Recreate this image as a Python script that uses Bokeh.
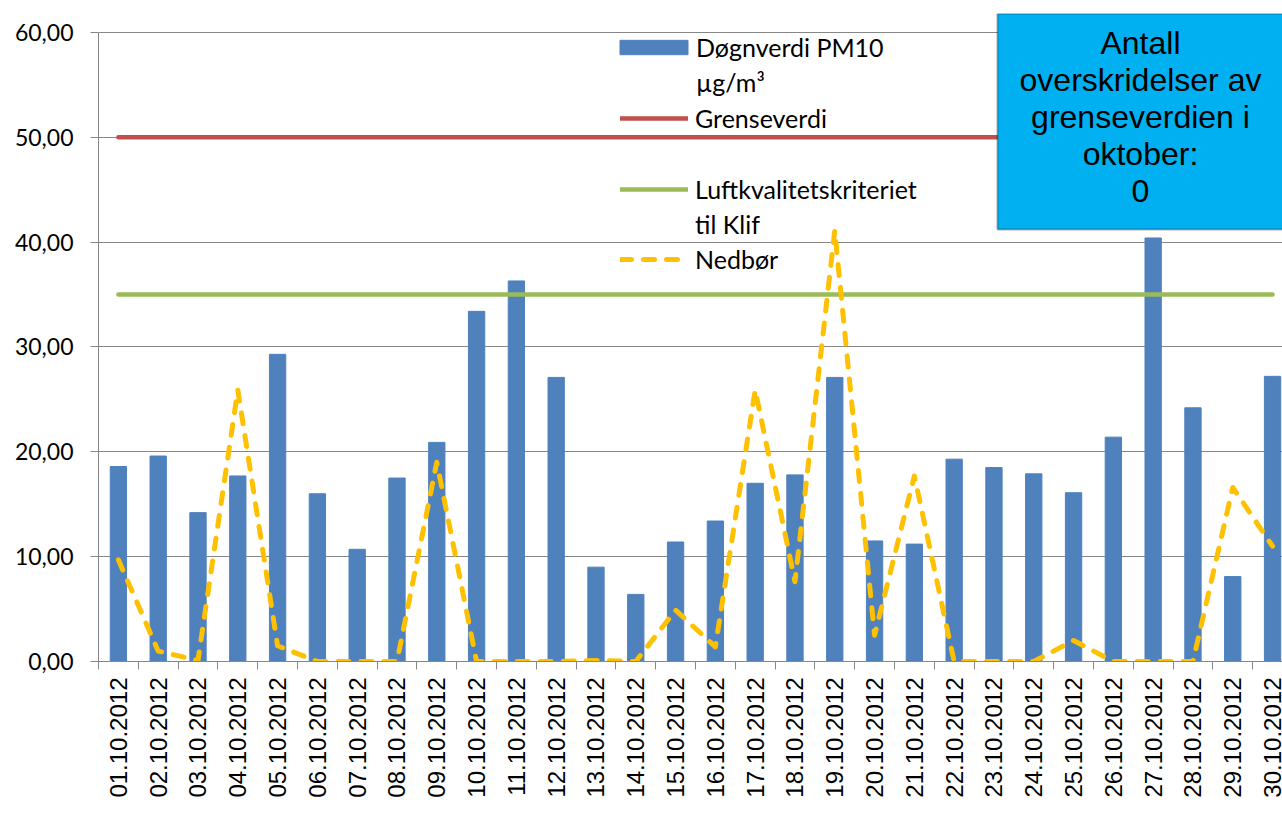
from math import pi
from bokeh.plotting import figure
from bokeh.models import (Range1d, FixedTicker, Legend, LegendItem,
                          BoxAnnotation, Label)
from bokeh.embed import file_html
from bokeh.resources import INLINE

# ---------------- data ----------------
dates = ["01.10.2012", "02.10.2012", "03.10.2012", "04.10.2012", "05.10.2012",
         "06.10.2012", "07.10.2012", "08.10.2012", "09.10.2012", "10.10.2012",
         "11.10.2012", "12.10.2012", "13.10.2012", "14.10.2012", "15.10.2012",
         "16.10.2012", "17.10.2012", "18.10.2012", "19.10.2012", "20.10.2012",
         "21.10.2012", "22.10.2012", "23.10.2012", "24.10.2012", "25.10.2012",
         "26.10.2012", "27.10.2012", "28.10.2012", "29.10.2012", "30.10.2012"]
pm10 = [18.6, 19.6, 14.2, 17.7, 29.3, 16.0, 10.7, 17.5, 20.9, 33.4,
        36.3, 27.1, 9.0, 6.4, 11.4, 13.4, 17.0, 17.8, 27.1, 11.5,
        11.2, 19.3, 18.5, 17.9, 16.1, 21.4, 40.4, 24.2, 8.1, 27.2]
nedbor = [9.7, 1.0, 0.1, 25.9, 1.5, 0.0, 0.0, 0.0, 19.0, 0.0,
          0.0, 0.0, 0.1, 0.0, 4.9, 1.4, 25.9, 7.6, 41.1, 2.5,
          17.7, 0.0, 0.0, 0.0, 2.0, 0.0, 0.0, 0.0, 16.6, 11.0]
grenseverdi = [50.0] * len(dates)
kriterium = [35.0] * len(dates)
y_ticks = [0, 10, 20, 30, 40, 50, 60]
y_tick_labels = ["0,00", "10,00", "20,00", "30,00", "40,00", "50,00", "60,00"]
# legend texts (each line of a wrapped legend label is one row)
leg_pm10 = ["Døgnverdi PM10", "µg/m³"]
leg_grense = ["Grenseverdi"]
leg_krit = ["Luftkvalitetskriteriet", "til Klif"]
leg_nedbor = ["Nedbør"]
box_text = "Antall\noverskridelser av\ngrenseverdien i\noktober:\n0"

xs = [i + 1 for i in range(len(dates))]

# ---------------- figure ----------------
p = figure(width=1282, height=820, output_backend="svg", toolbar_location=None,
           x_range=Range1d(0.5, 30.25), y_range=Range1d(0, 61.81),
           min_border_left=98, min_border_right=0, min_border_top=13,
           min_border_bottom=159)
p.outline_line_color = None
p.background_fill_color = "white"
p.border_fill_color = "white"

bars = p.vbar(x=xs, top=pm10, width=0.41, fill_color="#4F81BD",
              line_color="#4F81BD")
red = p.line(xs, grenseverdi, line_color="#C0504D", line_width=4.5,
             line_cap="round")
green = p.line(xs, kriterium, line_color="#9BBB59", line_width=4.5,
               line_cap="round")
yellow = p.line(xs, nedbor, line_color="#FFC000", line_width=5,
                line_dash="11 12", line_cap="round", line_join="round")
blank = p.line([], [], line_alpha=0)   # invisible glyph for wrapped label rows

# axes
grey = "#878787"
p.yaxis.ticker = FixedTicker(ticks=y_ticks)
p.yaxis.major_label_overrides = {t: l for t, l in zip(y_ticks, y_tick_labels)}
p.yaxis.bounds = (0, 60)
p.yaxis.axis_line_color = grey
p.yaxis.major_tick_line_color = grey
p.yaxis.major_tick_out = 8
p.yaxis.major_tick_in = 0
p.yaxis.minor_tick_line_color = None
p.yaxis.major_label_standoff = 17
p.yaxis.major_label_text_font = "Lato"
p.yaxis.major_label_text_font_size = "23px"
p.yaxis.major_label_text_color = "black"

p.xaxis.ticker = FixedTicker(ticks=xs, minor_ticks=[x - 0.5 for x in xs] + [xs[-1] + 0.5])
p.xaxis.major_label_overrides = {x: d for x, d in zip(xs, dates)}
p.xaxis.major_label_orientation = pi / 2
p.xaxis.axis_line_color = grey
p.xaxis.major_tick_line_color = None
p.xaxis.major_tick_out = 0
p.xaxis.major_tick_in = 0
p.xaxis.minor_tick_line_color = grey
p.xaxis.minor_tick_out = 8
p.xaxis.minor_tick_in = 0
p.xaxis.major_label_standoff = 8
p.xaxis.major_label_text_font = "Liberation Sans"
p.xaxis.major_label_text_font_size = "24px"
p.xaxis.major_label_text_color = "black"

p.xgrid.grid_line_color = None
p.ygrid.ticker = FixedTicker(ticks=y_ticks)
p.ygrid.grid_line_color = grey
p.ygrid.grid_line_width = 1.2


def make_legend(items, loc, gw, gh, standoff):
    return Legend(items=items, location=loc, orientation="vertical",
                  border_line_alpha=0, background_fill_alpha=0, padding=0,
                  margin=0, spacing=5, glyph_width=gw, glyph_height=gh,
                  label_standoff=standoff, label_text_font="Lato",
                  label_text_font_size="25px", label_text_color="black",
                  label_height=30)


leg1 = make_legend([LegendItem(label=leg_pm10[0], renderers=[bars]),
                    LegendItem(label=leg_pm10[1], renderers=[blank])],
                   (513, 564), 85, 18, 0)
leg2 = make_legend([LegendItem(label=leg_grense[0], renderers=[red])],
                   (522, 528), 68, 14, 7)
leg3 = make_legend([LegendItem(label=leg_krit[0], renderers=[green]),
                    LegendItem(label=leg_krit[1], renderers=[blank]),
                    LegendItem(label=leg_nedbor[0], renderers=[yellow])],
                   (522, 387), 68, 14, 7)
for lg in (leg1, leg2, leg3):
    p.add_layout(lg)

# outer chart border (a label box: not clipped to the plot frame)
p.add_layout(Label(x=8.5, y=13.5, x_units="canvas", y_units="canvas",
                   text=" ", text_align="left", text_baseline="top",
                   text_font_size="10px", text_alpha=0,
                   padding=(0, 2000, 2000, 0),
                   border_line_color="#898989", border_line_width=1.5,
                   background_fill_color=None))

# text box
p.add_layout(BoxAnnotation(left=997, right=1290, top=13, bottom=229,
                           left_units="canvas", right_units="canvas",
                           top_units="canvas", bottom_units="canvas",
                           fill_color="#00B0F0", fill_alpha=1,
                           line_color="black", line_width=2))
p.add_layout(Label(x=1140, y=116.5, x_units="canvas", y_units="canvas",
                   text=box_text, text_align="center", text_baseline="middle",
                   text_font="Liberation Sans", text_font_size="32px",
                   text_color="black", text_line_height=1.03))

open("out.html", "w").write(file_html(p, INLINE))
